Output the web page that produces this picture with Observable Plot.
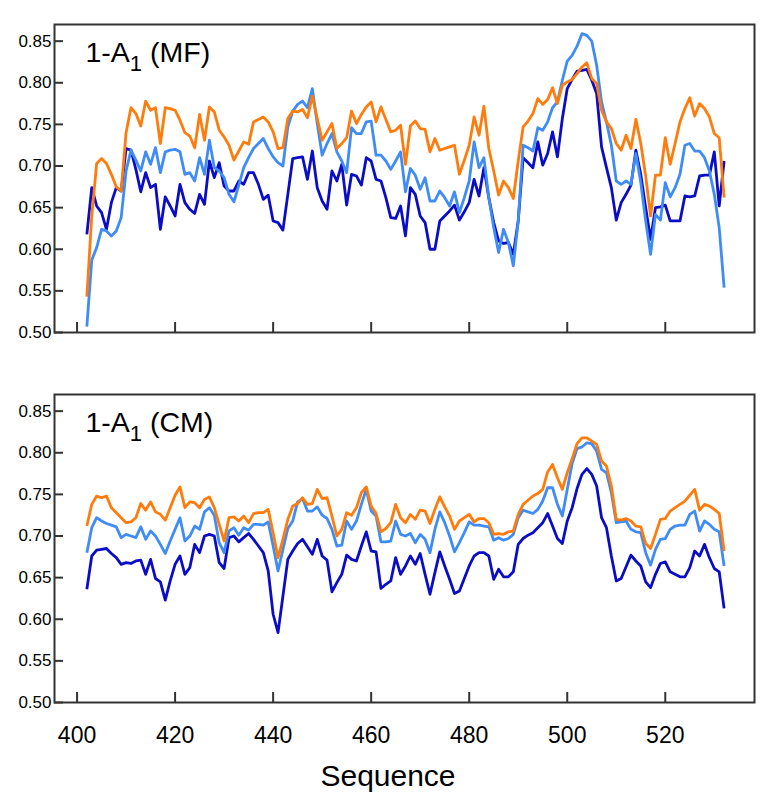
<!DOCTYPE html>
<html>
<head>
<meta charset="utf-8">
<script src="https://cdn.jsdelivr.net/npm/d3@7"></script>
<script src="https://cdn.jsdelivr.net/npm/@observablehq/plot@0.6"></script>
<style>
  body { margin: 0; background: #fff; font-family: "Liberation Sans", Arial, sans-serif; }
  #wrap { position: relative; width: 776px; height: 802px; overflow: hidden; }
  #xlabel { position: absolute; left: 0; width: 776px; top: 761px; text-align: center;
            font-size: 30px; line-height: 30px; color: #000; }
</style>
</head>
<body>
<div id="wrap"><div id="chart"></div><div id="xlabel">Sequence</div></div>
<script>
// ---------- data ----------
const startResidue = 402;               // first residue of every series
const panels = ["MF", "CM"];
const titleMain = "1-A";
const titleSub = "1";
const panelNames = ["(MF)", "(CM)"];
const seriesNames = ["dark", "light", "orange"];
const seriesColors = ["#0a0cc6", "#3f8cf7", "#ff7b0c"];
const xTicks = [400, 420, 440, 460, 480, 500, 520];
const yTicks = [0.50, 0.55, 0.60, 0.65, 0.70, 0.75, 0.80, 0.85];

// top panel (MF), residues 402..532
const mfOrange = [
  0.543,0.640,0.703,0.709,0.703,0.690,0.675,0.670,0.740,0.770,
  0.763,0.748,0.778,0.767,0.770,0.727,0.770,0.769,0.767,0.755,
  0.740,0.736,0.722,0.762,0.731,0.771,0.765,0.743,0.735,0.725,
  0.707,0.718,0.729,0.726,0.753,0.756,0.759,0.753,0.741,0.721,
  0.722,0.757,0.766,0.765,0.768,0.758,0.784,0.757,0.731,0.741,
  0.751,0.721,0.727,0.734,0.766,0.751,0.762,0.771,0.777,0.753,
  0.771,0.756,0.741,0.743,0.749,0.702,0.748,0.754,0.745,0.744,
  0.717,0.733,0.719,0.721,0.723,0.725,0.690,0.707,0.725,0.759,
  0.737,0.772,0.721,0.694,0.665,0.682,0.674,0.661,0.706,0.747,
  0.754,0.763,0.781,0.774,0.780,0.794,0.775,0.797,0.801,0.804,
  0.811,0.819,0.824,0.805,0.799,0.767,0.753,0.745,0.727,0.719,
  0.737,0.721,0.756,0.727,0.688,0.640,0.689,0.689,0.734,0.702,
  0.727,0.753,0.769,0.782,0.760,0.775,0.769,0.759,0.739,0.734,
  0.662
];
const mfLight = [
  0.507,0.587,0.602,0.624,0.622,0.616,0.622,0.638,0.694,0.719,
  0.707,0.694,0.717,0.702,0.722,0.692,0.717,0.719,0.720,0.717,
  0.690,0.692,0.682,0.710,0.690,0.731,0.698,0.694,0.686,0.666,
  0.657,0.677,0.698,0.710,0.721,0.727,0.733,0.721,0.711,0.704,
  0.700,0.747,0.766,0.774,0.778,0.770,0.793,0.751,0.713,0.727,
  0.739,0.717,0.706,0.692,0.746,0.739,0.739,0.753,0.754,0.713,
  0.713,0.706,0.696,0.706,0.717,0.669,0.697,0.689,0.672,0.686,
  0.658,0.658,0.670,0.662,0.652,0.669,0.644,0.662,0.682,0.729,
  0.698,0.710,0.662,0.626,0.596,0.624,0.608,0.580,0.634,0.725,
  0.722,0.718,0.746,0.743,0.753,0.770,0.777,0.803,0.826,0.833,
  0.844,0.859,0.857,0.850,0.821,0.777,0.753,0.725,0.682,0.678,
  0.682,0.678,0.715,0.680,0.634,0.594,0.642,0.635,0.680,0.663,
  0.674,0.690,0.725,0.727,0.718,0.718,0.710,0.694,0.666,0.626,
  0.554
];
const mfDark = [
  0.618,0.674,0.652,0.644,0.624,0.656,0.674,0.670,0.721,0.719,
  0.696,0.669,0.692,0.674,0.678,0.624,0.663,0.652,0.640,0.678,
  0.656,0.648,0.643,0.666,0.654,0.706,0.686,0.704,0.676,0.670,
  0.670,0.682,0.678,0.692,0.692,0.678,0.660,0.665,0.634,0.632,
  0.623,0.666,0.709,0.710,0.711,0.684,0.718,0.674,0.658,0.648,
  0.694,0.682,0.702,0.653,0.690,0.688,0.677,0.710,0.706,0.684,
  0.682,0.662,0.638,0.637,0.652,0.616,0.674,0.666,0.640,0.632,
  0.600,0.600,0.634,0.640,0.646,0.653,0.635,0.645,0.656,0.684,
  0.664,0.698,0.662,0.632,0.610,0.607,0.608,0.594,0.634,0.710,
  0.704,0.698,0.729,0.701,0.715,0.741,0.711,0.757,0.793,0.804,
  0.814,0.815,0.816,0.803,0.787,0.723,0.698,0.674,0.635,0.656,
  0.666,0.677,0.719,0.690,0.650,0.612,0.650,0.651,0.653,0.634,
  0.634,0.634,0.664,0.663,0.664,0.688,0.689,0.689,0.717,0.652,
  0.706
];

// bottom panel (CM), residues 402..532
const cmOrange = [
  0.712,0.738,0.748,0.746,0.748,0.734,0.728,0.722,0.716,0.717,
  0.722,0.739,0.731,0.741,0.729,0.726,0.719,0.734,0.749,0.759,
  0.734,0.741,0.740,0.734,0.744,0.747,0.734,0.714,0.694,0.722,
  0.723,0.718,0.724,0.716,0.727,0.728,0.728,0.732,0.704,0.674,
  0.696,0.720,0.736,0.739,0.746,0.738,0.739,0.756,0.745,0.746,
  0.724,0.700,0.708,0.728,0.725,0.734,0.752,0.759,0.736,0.727,
  0.705,0.709,0.716,0.738,0.722,0.716,0.726,0.720,0.731,0.730,
  0.715,0.732,0.747,0.735,0.724,0.708,0.718,0.722,0.726,0.717,
  0.721,0.721,0.716,0.702,0.703,0.702,0.705,0.706,0.726,0.738,
  0.743,0.748,0.751,0.756,0.777,0.786,0.770,0.756,0.776,0.793,
  0.811,0.818,0.818,0.814,0.810,0.790,0.784,0.760,0.720,0.719,
  0.721,0.718,0.712,0.711,0.691,0.685,0.702,0.720,0.721,0.730,
  0.734,0.738,0.742,0.749,0.756,0.731,0.738,0.736,0.732,0.727,
  0.682
];
const cmLight = [
  0.680,0.710,0.722,0.718,0.715,0.713,0.711,0.698,0.702,0.700,
  0.698,0.711,0.696,0.706,0.700,0.690,0.679,0.694,0.708,0.722,
  0.694,0.700,0.712,0.708,0.729,0.734,0.725,0.692,0.680,0.706,
  0.710,0.701,0.710,0.707,0.714,0.714,0.713,0.717,0.688,0.658,
  0.684,0.709,0.718,0.741,0.745,0.730,0.730,0.735,0.725,0.721,
  0.708,0.688,0.689,0.718,0.708,0.718,0.738,0.756,0.730,0.724,
  0.693,0.693,0.694,0.718,0.702,0.700,0.703,0.692,0.702,0.696,
  0.680,0.708,0.729,0.716,0.700,0.681,0.692,0.704,0.717,0.713,
  0.713,0.712,0.711,0.695,0.698,0.695,0.697,0.702,0.722,0.731,
  0.729,0.727,0.732,0.742,0.758,0.758,0.738,0.724,0.756,0.787,
  0.805,0.807,0.812,0.811,0.802,0.780,0.776,0.752,0.716,0.717,
  0.718,0.708,0.705,0.704,0.680,0.665,0.684,0.696,0.697,0.708,
  0.712,0.713,0.713,0.726,0.730,0.706,0.718,0.714,0.708,0.705,
  0.664
];
const cmDark = [
  0.636,0.676,0.683,0.684,0.685,0.679,0.674,0.666,0.668,0.667,
  0.670,0.671,0.654,0.672,0.649,0.645,0.623,0.646,0.666,0.676,
  0.654,0.662,0.690,0.680,0.700,0.702,0.700,0.668,0.661,0.698,
  0.700,0.693,0.698,0.703,0.696,0.688,0.680,0.658,0.606,0.584,
  0.628,0.672,0.682,0.691,0.696,0.687,0.678,0.696,0.676,0.671,
  0.633,0.644,0.654,0.677,0.672,0.670,0.688,0.705,0.682,0.681,
  0.637,0.642,0.646,0.674,0.654,0.664,0.676,0.666,0.679,0.654,
  0.630,0.656,0.681,0.664,0.648,0.631,0.634,0.649,0.664,0.676,
  0.680,0.680,0.676,0.648,0.660,0.651,0.651,0.657,0.690,0.697,
  0.701,0.704,0.710,0.716,0.727,0.712,0.697,0.691,0.718,0.734,
  0.757,0.774,0.781,0.774,0.760,0.722,0.710,0.676,0.646,0.649,
  0.663,0.677,0.670,0.664,0.645,0.638,0.654,0.667,0.669,0.657,
  0.654,0.651,0.651,0.662,0.682,0.676,0.690,0.674,0.661,0.657,
  0.613
];

// ---------- build table ----------
const seriesByPanel = {
  MF: {dark: mfDark, light: mfLight, orange: mfOrange},
  CM: {dark: cmDark, light: cmLight, orange: cmOrange}
};
const rows = [];
for (const p of panels) {
  for (const s of seriesNames) {
    seriesByPanel[p][s].forEach((v, i) => rows.push({panel: p, series: s, x: startResidue + i, v}));
  }
}
const titlePrefix = titleMain + titleSub + " ";
const titles = panels.map((p, i) => ({panel: p, label: titlePrefix + panelNames[i]}));

const chart = Plot.plot({
  width: 776,
  height: 770,
  marginTop: 23,
  marginLeft: 54,
  marginRight: 22,
  marginBottom: 67,
  style: {fontFamily: "'Liberation Sans', Arial, sans-serif", background: "white", color: "#000"},
  x: {domain: [395.4, 538.2]},
  y: {domain: [0.5, 0.87]},
  fy: {domain: panels, paddingInner: 0.167, paddingOuter: 0, axis: null, label: null},
  color: {domain: seriesNames, range: seriesColors},
  marks: [
    Plot.lineY(rows, {x: "x", y: "v", z: "series", stroke: "series", fy: "panel",
                      strokeWidth: 2.8, strokeLinejoin: "round", strokeLinecap: "butt"}),
    Plot.frame({stroke: "#333", strokeWidth: 2}),
    Plot.axisY({ticks: yTicks, tickSize: -9, tickPadding: 12, tickFormat: ".2f",
                fontSize: 17, label: null, stroke: "#333", strokeWidth: 2}),
    Plot.axisX({ticks: xTicks, tickSize: -10, tickFormat: () => "", label: null,
                facetAnchor: null, stroke: "#333", strokeWidth: 2}),
    Plot.axisX({ticks: xTicks, tickSize: 0, tickPadding: 24, fontSize: 23, label: null}),
    Plot.text(titles, {fy: "panel", text: "label", frameAnchor: "top-left", dx: 31, dy: 17,
                       lineAnchor: "top", textAnchor: "start", fontSize: 28.5, fill: "#000"})
  ]
});
document.getElementById("chart").appendChild(chart);

// subscript in the panel titles
d3.select(chart).selectAll("text")
  .filter(function () { return this.textContent.startsWith(titlePrefix); })
  .each(function () {
    const rest = this.textContent.slice(titleMain.length + titleSub.length);
    const t = d3.select(this);
    t.selectAll("*").remove();
    t.text(null);
    t.append("tspan").text(titleMain);
    t.append("tspan").attr("font-size", "22").attr("dy", "9").text(titleSub);
    t.append("tspan").attr("dy", "-9").text(rest);
  });
</script>
</body>
</html>
